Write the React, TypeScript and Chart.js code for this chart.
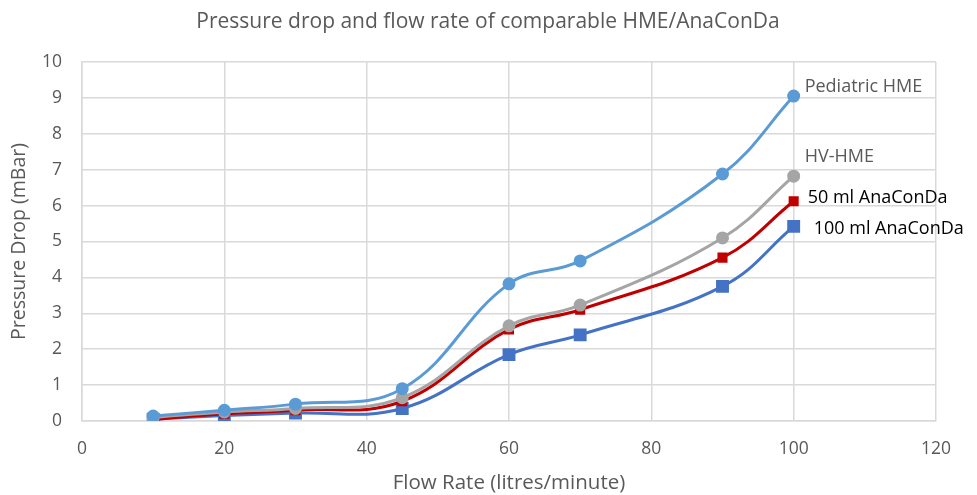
import React, { useEffect, useRef } from "react";
import { Chart, registerables } from "chart.js";
Chart.register(...registerables);

const flowRates = [10, 20, 30, 45, 60, 70, 90, 100];
const pediatricHME = [0.14, 0.3, 0.47, 0.9, 3.82, 4.46, 6.88, 9.05];
const hvHME = [0.1, 0.25, 0.35, 0.65, 2.65, 3.23, 5.1, 6.82];
const anaconda50 = [0.05, 0.2, 0.3, 0.55, 2.55, 3.1, 4.55, 6.12];
const anaconda100 = [0.05, 0.15, 0.22, 0.35, 1.85, 2.4, 3.75, 5.42];
const seriesNames = ["Pediatric HME", "HV-HME", "50 ml AnaConDa", "100 ml AnaConDa"];
const titleText = "Pressure drop and flow rate of comparable HME/AnaConDa";
const xTitle = "Flow Rate (litres/minute)";
const yTitle = "Pressure Drop (mBar)";

const FONT = "'Open Sans', sans-serif";
const TEXT = "#595959";

export default function App() {
  const ref = useRef<HTMLCanvasElement | null>(null);
  useEffect(() => {
    document.body.style.margin = "0";
    const toXY = (ys: number[]) => flowRates.map((x, i) => ({ x, y: ys[i] }));
    const labelOffsets = [
      { dx: 11, dy: -9 },
      { dx: 11, dy: -19 },
      { dx: 14, dy: -3 },
      { dx: 20, dy: 2 },
    ];
    const labelPlugin = {
      id: "lbls",
      afterDatasetsDraw(chart: any) {
        const ctx = chart.ctx;
        ctx.save();
        ctx.font = `18px ${FONT}`;
        ctx.textBaseline = "middle";
        ctx.textAlign = "left";
        chart.data.datasets.forEach((ds: any, i: number) => {
          const meta = chart.getDatasetMeta(i);
          const p = meta.data[meta.data.length - 1];
          ctx.fillStyle = i < 2 ? TEXT : "#000000";
          ctx.fillText(seriesNames[i], p.x + labelOffsets[i].dx, p.y + labelOffsets[i].dy);
        });
        ctx.fillStyle = TEXT;
        ctx.font = `21px ${FONT}`;
        ctx.textAlign = "center";
        ctx.fillText(titleText, 488, 22);
        ctx.restore();
      },
    };
    const mk = (i: number, data: number[], color: string, style: string, r: number, bw: number) => ({
      label: seriesNames[i],
      data: toXY(data),
      borderColor: color,
      backgroundColor: color,
      borderWidth: bw,
      pointStyle: style,
      pointRadius: r,
      pointHoverRadius: r,
      tension: 0.4,
      fill: false,
    });
    const chart = new Chart(ref.current!, {
      type: "line",
      data: {
        datasets: [
          mk(0, pediatricHME, "#5B9BD5", "circle", 5, 3),
          mk(1, hvHME, "#A5A5A5", "circle", 5, 3),
          mk(2, anaconda50, "#C00000", "rect", 5, 3),
          mk(3, anaconda100, "#4472C4", "rect", 7, 3),
        ],
      },
      options: {
        animation: false,
        responsive: false,
        devicePixelRatio: 1,
        layout: { padding: { top: 62, right: 41, left: 8, bottom: 0 } },
        plugins: { legend: { display: false }, title: { display: false }, tooltip: { enabled: false } },
        scales: {
          x: {
            type: "linear",
            min: 0,
            max: 120,
            ticks: { stepSize: 20, color: TEXT, font: { family: FONT, size: 17.5 }, padding: 18 },
            grid: { color: "#D9D9D9", lineWidth: 1.5, drawTicks: false },
            border: { color: "#D9D9D9", width: 1.5 },
            title: { display: true, text: xTitle, color: TEXT, font: { family: FONT, size: 20.5 }, padding: { top: 0, bottom: 0 } },
            afterFit: (s: any) => { s.height = 74; },
          },
          y: {
            min: 0,
            max: 10,
            ticks: { stepSize: 1, color: TEXT, font: { family: FONT, size: 17.5 }, padding: 20 },
            grid: { color: "#D9D9D9", lineWidth: 1.5, drawTicks: false },
            border: { color: "#D9D9D9", width: 1.5 },
            title: { display: true, text: yTitle, color: TEXT, font: { family: FONT, size: 19.5 }, padding: { top: 0, bottom: 0 } },
            afterFit: (s: any) => { s.width = 74; },
          },
        },
      },
      plugins: [labelPlugin],
    } as any);
    return () => chart.destroy();
  }, []);
  return (
    <div style={{ width: 977, height: 495, background: "#fff" }}>
      <canvas ref={ref} width={977} height={495} style={{ display: "block" }} />
    </div>
  );
}
